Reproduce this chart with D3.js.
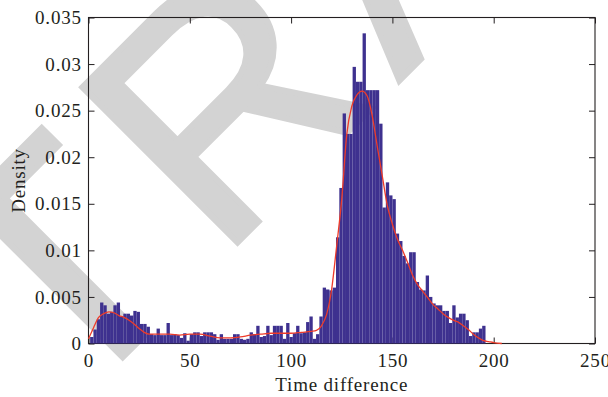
<!DOCTYPE html>
<html>
<head>
<meta charset="utf-8">
<script src="https://cdn.jsdelivr.net/npm/d3@7"></script>
<style>
  html, body { margin: 0; padding: 0; background: #fff; }
  svg { display: block; }
</style>
</head>
<body>
<svg id="chart" width="608" height="397"></svg>
<script>
// Histogram bins: equal-width bins starting at binStart
const binStart = 0.8;
const binWidth = 1.64;
const densities = [
  0.0007, 0.0015, 0.0026, 0.0044, 0.0041, 0.0032, 0.0034, 0.0041, 0.0044, 0.0029,
  0.0032, 0.0032, 0.0030, 0.0035, 0.0034, 0.0021, 0.0021, 0.0018, 0.0010, 0.0009,
  0.0016, 0.0009, 0.0009, 0.0022, 0.0009, 0.0010, 0.0009, 0.0006, 0.0011, 0.0003,
  0.0010, 0.0012, 0.0012, 0.0008, 0.0012, 0.0012, 0.0012, 0.0010, 0.0004, 0.0010,
  0.0005, 0.0005, 0.0005, 0.0010, 0.0010, 0.0005, 0.0004, 0.0005, 0.0012, 0.0010,
  0.0019, 0.0007, 0.0008, 0.0019, 0.0009, 0.0019, 0.0019, 0.0019, 0.0005, 0.0022,
  0.0007, 0.0011, 0.0019, 0.0011, 0.0012, 0.0023, 0.0029, 0.0005, 0.0010, 0.0029,
  0.0060, 0.0058, 0.0057, 0.0060, 0.0114, 0.0167, 0.0247, 0.0225, 0.0225, 0.0297,
  0.0281, 0.0281, 0.0333, 0.0272, 0.0272, 0.0272, 0.0272, 0.0236, 0.0146, 0.0173,
  0.0159, 0.0155, 0.0118, 0.0110, 0.0094, 0.0086, 0.0098, 0.0098, 0.0066, 0.0058,
  0.0057, 0.0073, 0.0050, 0.0043, 0.0041, 0.0041, 0.0035, 0.0035, 0.0022, 0.0041,
  0.0028, 0.0032, 0.0032, 0.0025, 0.0008, 0.0012, 0.0012, 0.0016, 0.0019
];

// Kernel density estimate, sampled along the time axis
const curveX = [0, 2.5, 5, 7.5, 10, 12.5, 15, 17.5, 20, 22.5, 25, 27.5, 30, 35, 40, 45, 50, 55, 60, 65,
  70, 75, 80, 85, 90, 95, 100, 105, 110, 112.5, 115, 117.5, 120, 122.5, 125, 127.5, 130, 132.5, 135, 137.5,
  140, 142.5, 145, 147.5, 150, 152.5, 155, 157.5, 160, 162.5, 165, 167.5, 170, 172.5, 175, 177.5, 180, 182.5, 185, 187.5,
  190, 192.5, 195, 197.5, 200, 204];
const curveY = [0.0005, 0.0017, 0.0028, 0.0032, 0.0034, 0.0033, 0.0030, 0.0028, 0.0025, 0.0021, 0.0016, 0.0012, 0.0010, 0.0010, 0.0010, 0.0009, 0.0010, 0.0010, 0.0008, 0.0006,
  0.0006, 0.0007, 0.0009, 0.0010, 0.0011, 0.0011, 0.0011, 0.0012, 0.0013, 0.0014, 0.0019, 0.0031, 0.0058, 0.0105, 0.0155, 0.0225, 0.0255, 0.0267, 0.0271, 0.0266,
  0.0245, 0.0212, 0.0180, 0.0148, 0.0128, 0.0112, 0.0100, 0.0087, 0.0073, 0.0063, 0.0056, 0.0049, 0.0042, 0.0037, 0.0032, 0.0028, 0.0025, 0.0023, 0.0019, 0.0015,
  0.0010, 0.0006, 0.0003, 0.0002, 0.0001, 0];

const xTicks = [0, 50, 100, 150, 200, 250];
const xTickLabels = ["0", "50", "100", "150", "200", "250"];
const yTicks = [0, 0.005, 0.01, 0.015, 0.02, 0.025, 0.03, 0.035];
const yTickLabels = ["0", "0.005", "0.01", "0.015", "0.02", "0.025", "0.03", "0.035"];
const xLabel = "Time difference";
const yLabel = "Density";
const stamp = "RETRACTED";

const plot = { left: 88.5, right: 595, top: 17.5, bottom: 343.5 };
const ink = "#231f20";
const serif = "'Liberation Serif', 'Times New Roman', serif";

const svg = d3.select("#chart");
const x = d3.scaleLinear().domain([0, 250]).range([plot.left, plot.right]);
const y = d3.scaleLinear().domain([0, 0.035]).range([plot.bottom, plot.top]);

// Diagonal stamp across the page, behind everything
svg.append("text")
  .attr("transform", "translate(-283,763) rotate(-45)")
  .attr("font-family", "'Liberation Sans', Arial, sans-serif")
  .attr("font-size", 319)
  .attr("letter-spacing", 24)
  .attr("fill", "#d3d3d3")
  .attr("stroke", "#d3d3d3")
  .attr("stroke-width", 6)
  .attr("stroke-linejoin", "miter")
  .text(stamp);

// Axes box with inward ticks on all four sides
function styleAxis(g) {
  g.select(".domain").remove();
  g.selectAll(".tick line").attr("stroke", ink).attr("stroke-width", 1);
  g.selectAll(".tick text")
    .attr("fill", ink)
    .attr("font-family", serif)
    .attr("font-size", 19)
    .attr("letter-spacing", 0.8);
}

svg.append("rect")
  .attr("x", plot.left).attr("y", plot.top)
  .attr("width", plot.right - plot.left).attr("height", plot.bottom - plot.top)
  .attr("fill", "none").attr("stroke", ink).attr("stroke-width", 1.1);

svg.append("g")
  .attr("transform", `translate(0,${plot.bottom})`)
  .call(d3.axisBottom(x).tickValues(xTicks).tickSize(-6).tickPadding(10.5)
    .tickFormat((d, i) => xTickLabels[i]))
  .call(styleAxis);

svg.append("g")
  .attr("transform", `translate(0,${plot.top})`)
  .call(d3.axisTop(x).tickValues(xTicks).tickSize(-6).tickFormat(""))
  .call(styleAxis);

svg.append("g")
  .attr("transform", `translate(${plot.left},0)`)
  .call(d3.axisLeft(y).tickValues(yTicks).tickSize(-6).tickPadding(6.7)
    .tickFormat((d, i) => yTickLabels[i]))
  .call(styleAxis);

svg.append("g")
  .attr("transform", `translate(${plot.right},0)`)
  .call(d3.axisRight(y).tickValues(yTicks).tickSize(-6).tickFormat(""))
  .call(styleAxis);

// Histogram bars
const bins = densities.map((d, i) => ({ x0: binStart + i * binWidth, x1: binStart + (i + 1) * binWidth, d }));
svg.append("g")
  .selectAll("rect")
  .data(bins)
  .join("rect")
  .attr("x", b => x(b.x0))
  .attr("width", b => x(b.x1) - x(b.x0))
  .attr("y", b => y(b.d))
  .attr("height", b => y(0) - y(b.d))
  .attr("fill", "#3e318f");

// Density curve
const pts = curveX.map((v, i) => [v, curveY[i]]);
svg.append("path")
  .datum(pts)
  .attr("fill", "none")
  .attr("stroke", "#ee3b2a")
  .attr("stroke-width", 1.3)
  .attr("d", d3.line().x(p => x(p[0])).y(p => y(p[1])).curve(d3.curveMonotoneX));

// Axis titles
svg.append("text")
  .attr("x", (plot.left + plot.right) / 2)
  .attr("y", 391)
  .attr("text-anchor", "middle")
  .attr("font-family", serif)
  .attr("font-size", 19)
  .attr("letter-spacing", 0.8)
  .attr("fill", ink)
  .text(xLabel);

svg.append("text")
  .attr("transform", `translate(25,${(plot.top + plot.bottom) / 2}) rotate(-90)`)
  .attr("text-anchor", "middle")
  .attr("font-family", serif)
  .attr("font-size", 19)
  .attr("letter-spacing", 0.8)
  .attr("fill", ink)
  .text(yLabel);
</script>
</body>
</html>
